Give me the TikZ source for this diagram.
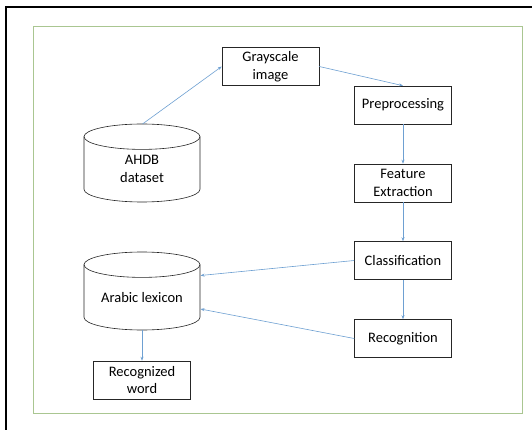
\documentclass[tikz,border=0pt]{standalone}
\usepackage{fontspec}
\setmainfont{Carlito}
\usetikzlibrary{arrows.meta}
\definecolor{arr}{RGB}{110,160,210}
\definecolor{grn}{RGB}{170,198,145}
\begin{document}
\begin{tikzpicture}[x=1pt,y=-1pt,
  font=\fontsize{14.5}{17.6}\selectfont,
  box/.style={draw=black!85,line width=0.6pt,minimum width=97pt,minimum height=38pt,align=center,inner sep=0pt},
  cyl/.style={draw=black!85,line width=0.6pt},
  conn/.style={draw=arr,line width=0.6pt,-{Stealth[length=4pt,width=3pt]}}]
\useasboundingbox (0,0) rectangle (532,430);
\fill[white] (0,0) rectangle (532,430);
% frames
\draw[line width=1.8pt,black] (6,430) -- (6,7) -- (532,7);
\draw[grn,line width=0.7pt] (33,26.5) rectangle (522,413);
% boxes
\node[box] (gray) at (270.5,66.5) {Grayscale\\image};
\node[box] (pre) at (403,105) {Preprocessing};
\node[box] (feat) at (403,183) {Feature\\Extraction};
\node[box] (cls) at (403,260.5) {Classification};
\node[box] (rec) at (403,338.5) {Recognition};
\node[box] (word) at (142,380) {Recognized\\word};
% cylinders
\draw[cyl] (142,136.7) ellipse [x radius=58, y radius=12.7];
\draw[cyl] (84,136.7) -- (84,189.3) arc[start angle=180,end angle=0,x radius=58,y radius=12.7] -- (200,136.7);
\node[align=center] (ahdb) at (142,169) {AHDB\\dataset};
\draw[cyl] (142,264.7) ellipse [x radius=58, y radius=12.7];
\draw[cyl] (84,264.7) -- (84,317.3) arc[start angle=180,end angle=0,x radius=58,y radius=12.7] -- (200,264.7);
\node (lex) at (142,297.5) {Arabic lexicon};
\coordinate (ahdbtop) at (142.5,124);
\coordinate (lexA) at (200.5,275.5);
\coordinate (lexB) at (200.5,309);
\coordinate (lexbot) at (142,330);
% connectors
\draw[conn] (ahdbtop) -- (gray.west);
\draw[conn] (gray.east) -- (pre.north);
\draw[conn] (pre.south) -- (feat.north);
\draw[conn] (feat.south) -- (cls.north);
\draw[conn] (cls.west) -- (lexA);
\draw[conn] (rec.west) -- (lexB);
\draw[conn] (cls.south) -- (rec.north);
\draw[conn] (lexbot) -- (word.north);
\end{tikzpicture}
\end{document}
